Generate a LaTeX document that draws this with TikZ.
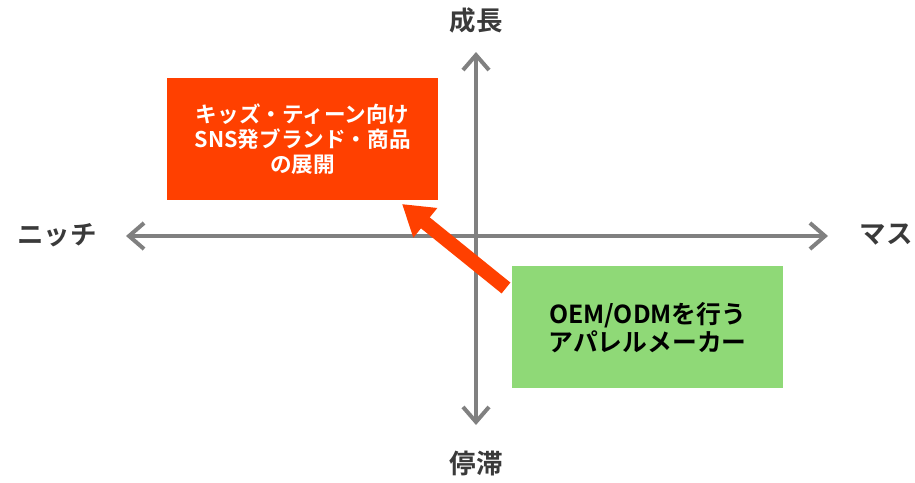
\documentclass[tikz,border=0pt]{standalone}
\usepackage{fontspec}
\setmainfont{Noto Sans CJK JP}[BoldFont={* Bold}]
\usetikzlibrary{arrows.meta}
\definecolor{axisgray}{HTML}{808080}
\definecolor{labelgray}{HTML}{3A3A3A}
\definecolor{boxred}{HTML}{FF4000}
\definecolor{boxgreen}{HTML}{8FD977}
\tikzset{
  axis/.style={draw=axisgray, line width=4pt, -{Straight Barb[length=15pt,width=26pt,line width=4pt]}},
  axlabel/.style={font=\bfseries\fontsize{26.5}{30}\selectfont, text=labelgray, inner sep=0pt},
  quadbox/.style={minimum width=271pt, minimum height=122pt, inner sep=0pt, align=center, anchor=north west},
  movearrow/.style={draw=boxred, line width=14pt, -{Triangle[length=30pt,width=36pt]}}
}
\begin{document}
\begin{tikzpicture}[x=1pt,y=-1pt]
\useasboundingbox (0,0) rectangle (915,482);
\coordinate (c) at (476,236);
\coordinate (left) at (126,236);
\coordinate (right) at (828,236);
\coordinate (top) at (476,52);
\coordinate (bottom) at (476,425);
\draw[axis] (c) -- (left);
\draw[axis] (c) -- (right);
\draw[axis] (c) -- (top);
\draw[axis] (c) -- (bottom);
\node[axlabel] (up) at (476,20) {成長};
\node[axlabel] (down) at (476,463) {停滞};
\node[axlabel] (niche) at (57,235) {ニッチ};
\node[axlabel] (mass) at (886,235) {マス};
\node[quadbox, fill=boxred, text=white, font=\bfseries\fontsize{21.6}{25}\selectfont] (r) at (167,78) {キッズ・ティーン向け\\SNS発ブランド・商品\\の展開};
\node[quadbox, fill=boxgreen, text=black, font=\bfseries\fontsize{24.8}{28}\selectfont] (g) at (512,266) {OEM/ODMを行う\\アパレルメーカー};
\coordinate (tail) at (506,288);
\coordinate (tip) at (402,204);
\draw[movearrow] (tail) -- (tip);
\end{tikzpicture}
\end{document}
